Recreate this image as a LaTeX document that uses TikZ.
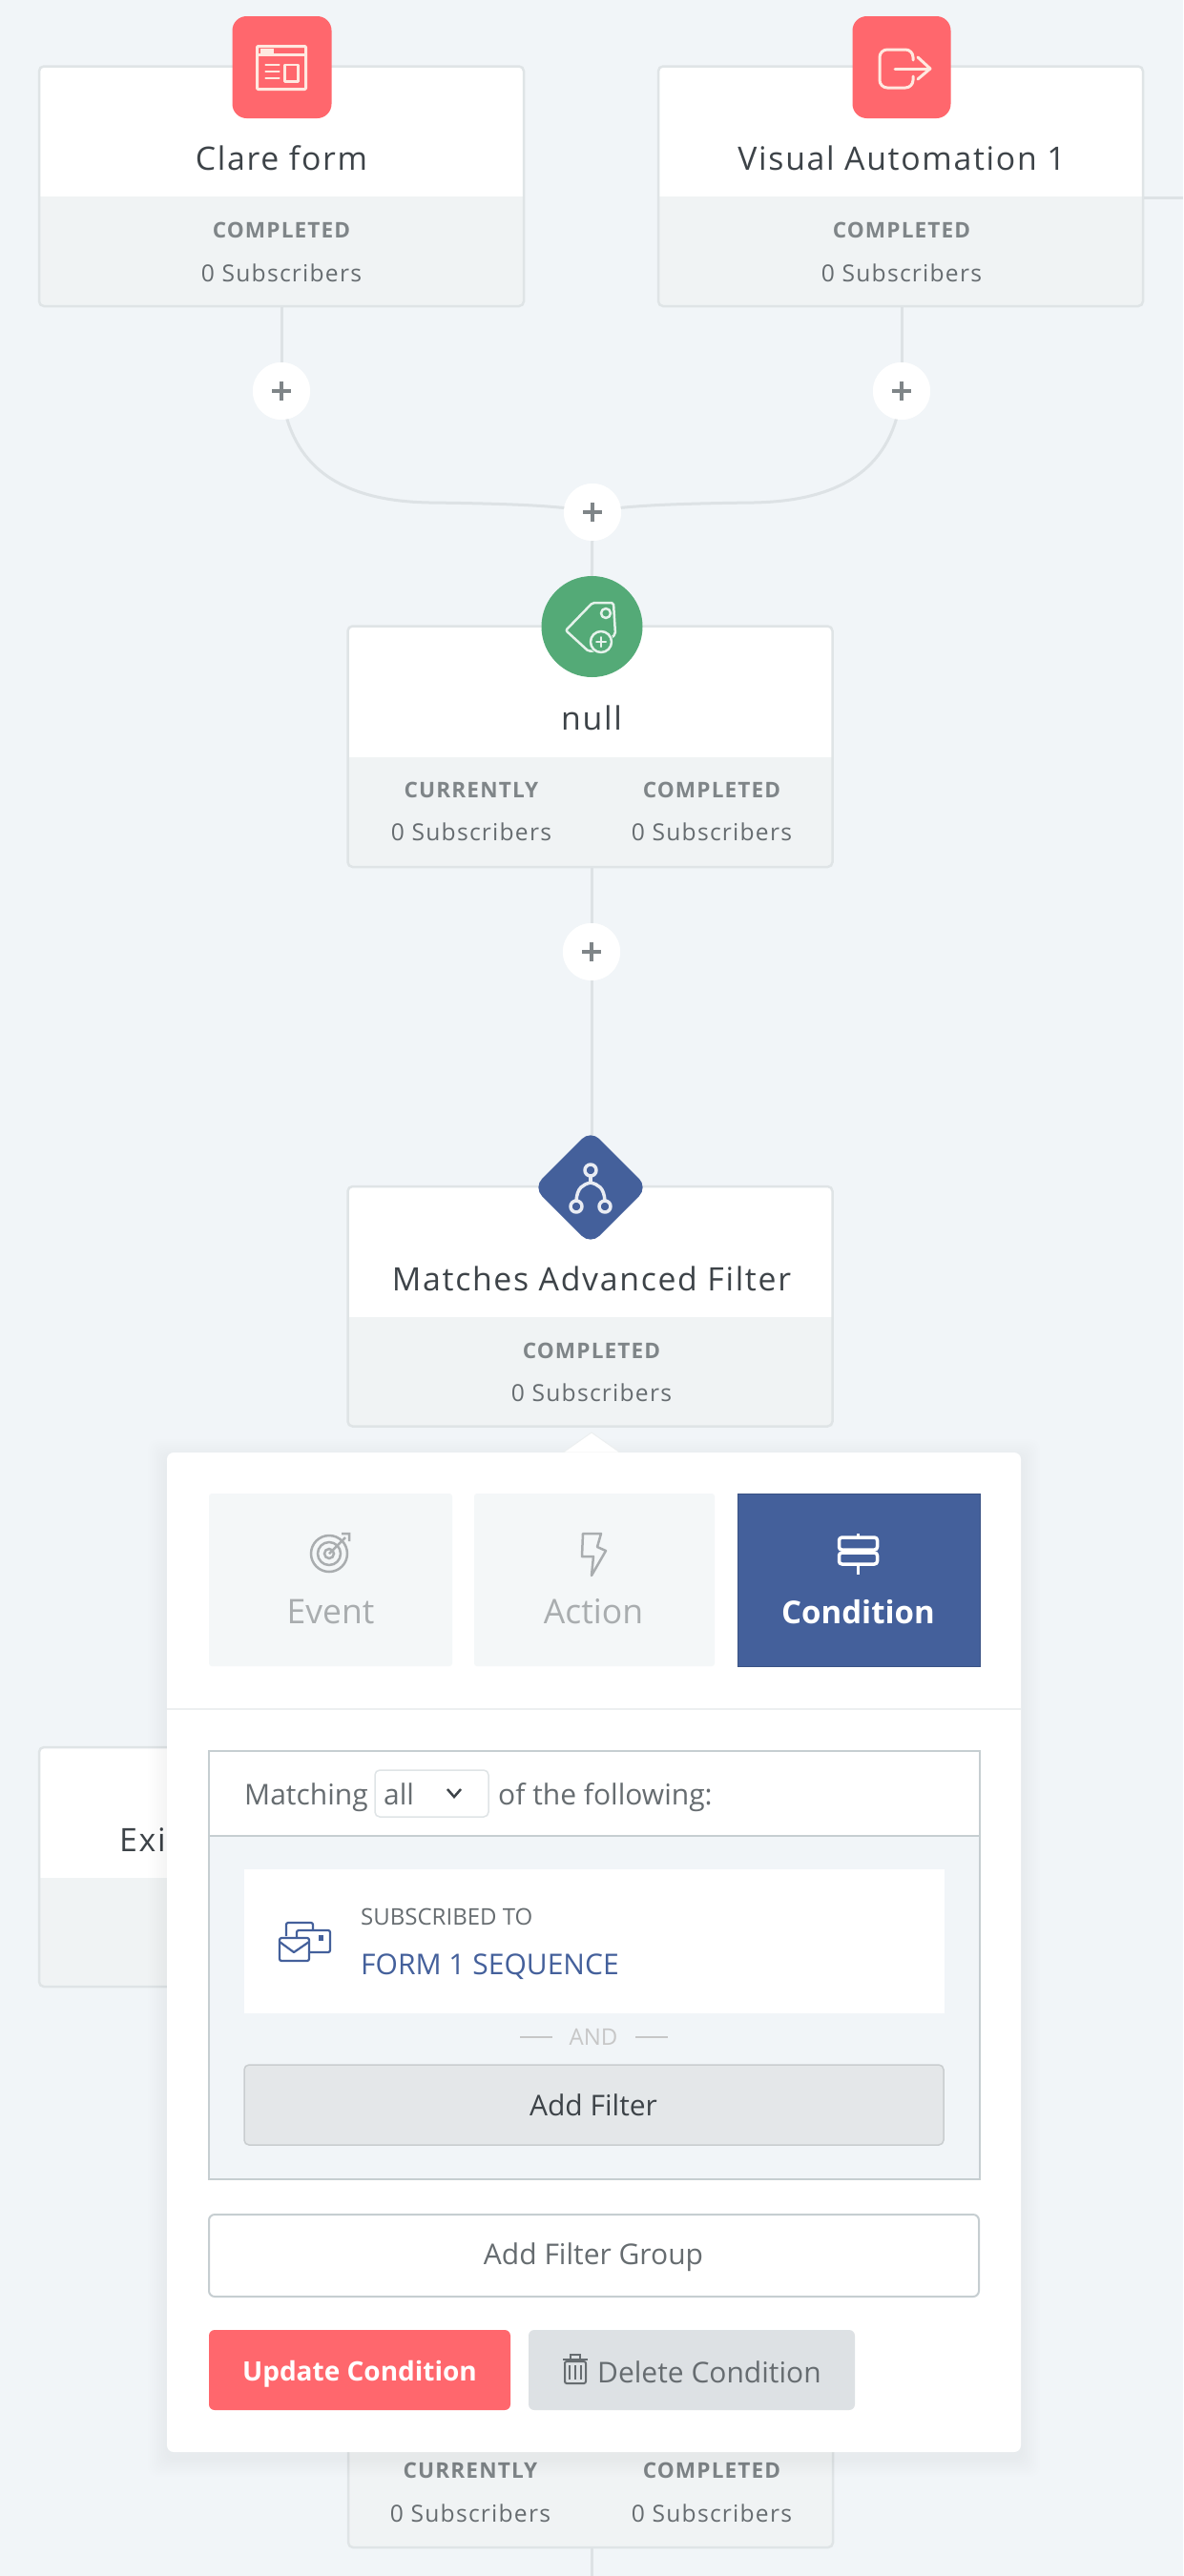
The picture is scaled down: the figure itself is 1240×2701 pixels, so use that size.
\documentclass[tikz,border=0pt]{standalone}
\usepackage{fontspec}
\setmainfont{Open Sans}
\newfontfamily\ls[LetterSpace=5]{Open Sans}
\newfontfamily\lsb[LetterSpace=5]{Open Sans}
\usetikzlibrary{shapes.geometric}
\definecolor{bgc}{HTML}{F1F5F8}
\definecolor{edgec}{HTML}{DFE4E6}
\definecolor{footc}{HTML}{F0F3F4}
\definecolor{linec}{HTML}{DDE2E5}
\definecolor{redc}{HTML}{FF676D}
\definecolor{greenc}{HTML}{54AA77}
\definecolor{bluec}{HTML}{44609B}
\definecolor{titlec}{HTML}{3D4348}
\definecolor{mutedc}{HTML}{7F8588}
\definecolor{subc}{HTML}{666C70}
\definecolor{tabc}{HTML}{F4F7F8}
\definecolor{tabt}{HTML}{A9ADAF}
\definecolor{boxl}{HTML}{C6CED1}
\definecolor{greyb}{HTML}{DDE1E4}
\definecolor{addb}{HTML}{E4E7E9}
\definecolor{iconp}{HTML}{FFE9E0}
\tikzset{
 conn/.style={draw=linec,line width=3pt},
 plusbtn/.style={circle,fill=white,minimum size=60pt,inner sep=0pt},
 title/.style={font=\ls\fontsize{33.8}{34}\selectfont,text=titlec,inner sep=0pt,anchor=center},
 head/.style={font=\lsb\fontsize{22.6}{23}\selectfont\bfseries,text=mutedc,inner sep=0pt},
 subs/.style={font=\ls\fontsize{24.6}{25}\selectfont,text=subc,inner sep=0pt},
 icon/.style={draw=iconp,line width=3pt,line join=round,line cap=round},
 tablabel/.style={font=\fontsize{35.5}{36}\selectfont,inner sep=0pt},
 body/.style={font=\fontsize{30}{30}\selectfont,inner sep=0pt},
 tabbox/.style={fill=tabc,rounded corners=3pt},
 panelline/.style={draw=boxl,line width=2pt},
}
\newcommand{\card}[4]{%
 \fill[white,rounded corners=5pt] (#1,#2) rectangle (#1+508,#4);
 \fill[footc,rounded corners=5pt] (#1,#3) rectangle (#1+508,#4);
 \fill[footc] (#1,#3) rectangle (#1+508,#3+12);
 \draw[edgec,line width=2.5pt,rounded corners=5pt] (#1,#2) rectangle (#1+508,#4);
}
\begin{document}
\begin{tikzpicture}[x=1pt,y=-1pt]
\useasboundingbox (0,0) rectangle (1240,2701);
\fill[bgc] (0,0) rectangle (1240,2701);
% connectors
\coordinate (rstub) at (1240,207);
\coordinate (cbot) at (620,2701);
\node[plusbtn] (p1) at (295,410) {};
\node[plusbtn] (p2) at (945,410) {};
\node[plusbtn] (p3) at (621,537) {};
\node[plusbtn] (p4) at (620,998) {};
\coordinate (c1b) at (295,321);
\coordinate (c2b) at (945,321);
\coordinate (c3t) at (620,656);
\coordinate (c3b) at (620,909);
\coordinate (c4t) at (620,1245);
\coordinate (c5b) at (620,2671);
\draw[conn] (c1b) -- (p1);
\draw[conn] (c2b) -- (p2);
\draw[conn] (p1.center) .. controls (303,480) and (345,525) .. (450,527) .. controls (530,528) and (590,530) .. (p3.center);
\draw[conn] (p2.center) .. controls (938,480) and (895,525) .. (790,527) .. controls (710,528) and (650,530) .. (p3.center);
\draw[conn] (p3) -- (c3t);
\draw[conn] (c3b) -- (p4);
\draw[conn] (p4) -- (c4t);
\draw[conn] (c5b) -- (cbot);
\draw[conn] (1197,207) -- (rstub);
% cards
\card{41}{69.5}{206}{321}
\card{690}{69.5}{206}{321}
\card{364.5}{656.5}{794}{909}
\card{364.5}{1244}{1381}{1495.5}
\card{41}{1832}{1969}{2083}
\card{365}{2440}{2540}{2671}
% plus buttons
\foreach \n in {p1,p2,p3,p4}{
 \fill[white] (\n) circle (30);
 \draw[mutedc,line width=4.5pt] ([xshift=-10pt]\n.center) -- ([xshift=10pt]\n.center);
 \draw[mutedc,line width=4.5pt] ([yshift=-10pt]\n.center) -- ([yshift=10pt]\n.center);
}
% card text
\node[title] (t1) at (295,166) {Clare form};
\node[head] (h1) at (295,241) {COMPLETED};
\node[subs] (s1) at (295,286) {0 Subscribers};
\node[title] (t2) at (945,166) {Visual Automation 1};
\node[head] (h2) at (945,241) {COMPLETED};
\node[subs] (s2) at (945,286) {0 Subscribers};
\node[title] (t3) at (620,753) {null};
\node[head] (h3a) at (494,828) {CURRENTLY};
\node[subs] (s3a) at (494,872) {0 Subscribers};
\node[head] (h3b) at (746,828) {COMPLETED};
\node[subs] (s3b) at (746,872) {0 Subscribers};
\node[title] (t4) at (620,1341) {Matches Advanced Filter};
\node[head] (h4) at (620,1416) {COMPLETED};
\node[subs] (s4) at (620,1460) {0 Subscribers};
\node[title,anchor=west] (t5) at (125,1929) {Exit};
\node[head] (h6a) at (493,2590.5) {CURRENTLY};
\node[subs] (s6a) at (493,2635.5) {0 Subscribers};
\node[head] (h6b) at (746,2590.5) {COMPLETED};
\node[subs] (s6b) at (746,2635.5) {0 Subscribers};
% top icons
\node[fill=redc,rounded corners=15pt,minimum width=104pt,minimum height=107pt,inner sep=0pt] (i1) at (295.5,70.5) {};
\node[fill=redc,rounded corners=15pt,minimum width=103pt,minimum height=107pt,inner sep=0pt] (i2) at (945,70.5) {};
\begin{scope}[shift={(295.5,70.5)}]
 \draw[icon,rounded corners=1pt] (-26,-22) rectangle (25,23);
 \draw[icon] (-26,-13.5) -- (25,-13.5);
 \fill[iconp] (-23,-20) rectangle (-9,-15);
 \draw[icon,line width=2.5pt] (-17,-2.5)--(-3,-2.5) (-17,4.5)--(-3,4.5) (-17,11.5)--(-3,11.5);
 \draw[icon,line width=2.5pt] (3,-2.5) rectangle (17,15);
\end{scope}
\begin{scope}[shift={(945,71)}]
 \draw[icon,rounded corners=8pt] (12,-8) -- (12,-19) -- (-23,-19) -- (-23,21) -- (12,21) -- (12,9);
 \draw[icon] (-7,1) -- (29,1);
 \draw[icon] (17,-11) -- (30,1) -- (17,12);
\end{scope}
% null icon
\node[circle,fill=greenc,minimum size=106pt,inner sep=0pt] (i3) at (620.5,657) {};
\begin{scope}[shift={(620,657)}]
 \draw[icon,draw=white!85!greenc,line width=2.5pt,rounded corners=2pt] (-27,4) -- (1,-25) -- (23,-25) -- (25,8) -- (6,25) -- (-3,26) -- cycle;
 \fill[greenc] (10,16) circle (13);
 \draw[icon,draw=white!85!greenc,line width=2.5pt] (10,16) circle (11);
 \draw[icon,draw=white!85!greenc,line width=2pt] (10,11)--(10,21) (5,16)--(15,16);
 \draw[icon,draw=white!85!greenc,line width=2.5pt] (15,-14) circle (5);
\end{scope}
% diamond icon
\fill[bluec,rounded corners=13pt] (619,1185) -- (679,1245) -- (619,1305) -- (559,1245) -- cycle;
\begin{scope}[shift={(619,1245)}]
 \draw[icon,draw=white!88!bluec,line width=3.5pt] (0,-18) circle (6) (-15,20) circle (6) (15,20) circle (6);
 \draw[icon,draw=white!88!bluec,line width=3.5pt] (0,-12) -- (0,-5);
 \draw[icon,draw=white!88!bluec,line width=3.5pt] (-15,14) .. controls (-14,0) and (-8,-3) .. (0,-5) .. controls (8,-3) and (14,0) .. (15,14);
\end{scope}
% panel shadow and panel
\foreach \s in {2,4,...,20}{
 \fill[black,opacity=0.0025,rounded corners=10pt] (175-\s,1523-\s+6) rectangle (1070+\s,2571+\s+6);
}
\fill[white,rounded corners=7pt] (175,1523) rectangle (1070,2571);
\fill[white,draw=edgec!60!white,line width=1pt] (590,1523) -- (620,1502) -- (650,1523) -- cycle;
\fill[white] (588,1523) rectangle (652,1530);
\draw[edgec!60!white,line width=2pt] (175,1792) -- (1070,1792);
% tabs
\node[tabbox,minimum width=255pt,minimum height=181pt,inner sep=0pt] (tab1) at (346.5,1656.5) {};
\node[tabbox,minimum width=252pt,minimum height=181pt,inner sep=0pt] (tab2) at (623,1656.5) {};
\node[fill=bluec,draw=bluec!85!black,line width=1pt,minimum width=254pt,minimum height=181pt,inner sep=0pt] (tab3) at (900,1656.5) {};
\node[tablabel,text=tabt] (l1) at (346.5,1690) {Event};
\node[tablabel,text=tabt] (l2) at (622,1690) {Action};
\node[tablabel,text=white,font=\fontsize{33}{33}\selectfont\bfseries] (l3) at (899.5,1690) {Condition};
\begin{scope}[shift={(346,1629)},tabt,line width=2.5pt]
 \draw (-1,0) circle (19);
 \draw (-1,0) circle (12);
 \draw (-1,0) circle (5);
 \draw (-1,0) -- (16,-17) (12,-21) -- (20,-21) -- (20,-13);
\end{scope}
\begin{scope}[shift={(622,1630)},tabt,line width=2.5pt,line join=round]
 \draw (-11,-22) -- (8,-22) -- (4,-8) -- (13,-4) -- (-2,22) -- (0,2) -- (-12,2) -- cycle;
\end{scope}
\begin{scope}[shift={(899.5,1630)},white,line width=3.5pt,line join=round]
 \draw[rounded corners=3pt] (-20,-18) rectangle (20,-5);
 \draw[rounded corners=3pt] (-20,-2) rectangle (20,10);
 \draw (0,-22) -- (0,-18) (0,10) -- (0,21);
\end{scope}
% filter box
\fill[bgc] (219,1925) rectangle (1027,2285);
\draw[panelline] (219,1836) rectangle (1027,2285);
\draw[panelline] (219,1925) -- (1027,1925);
\node[body,text=subc,anchor=base west] (m1) at (256,1892) {Matching};
\node[draw=edgec,line width=1.5pt,rounded corners=5pt,minimum width=119pt,minimum height=49pt,inner sep=0pt,fill=white] (sel) at (452.5,1880.5) {};
\node[body,text=subc,anchor=base west] (m2) at (402,1892) {all};
\draw[titlec,line width=2.5pt] (469,1876) -- (476,1884) -- (483,1876);
\node[body,text=subc,anchor=base west] (m3) at (522,1892) {of the following:};
\fill[white] (256,1960) rectangle (990,2111);
\node[inner sep=0pt,anchor=west,font=\fontsize{24}{24}\selectfont,text=subc] (st) at (378,2010) {SUBSCRIBED TO};
\node[inner sep=0pt,anchor=west,font=\fontsize{30}{30}\selectfont,text=bluec] (sq) at (378,2062) {FORM 1 SEQUENCE};
\begin{scope}[bluec,line width=2.2pt,line join=round]
 \draw[rounded corners=2pt] (300,2030) -- (300,2016) -- (328,2016) -- (328,2024);
 \fill[white] (311,2024) rectangle (346,2048);
 \draw[rounded corners=2pt] (311,2024) rectangle (346,2047);
 \fill[bluec] (334,2029) rectangle (339,2035);
 \fill[white] (292,2031) rectangle (324,2057);
 \draw[rounded corners=2pt] (293,2032) rectangle (324,2056);
 \draw (293,2036) -- (308,2047) -- (324,2036);
\end{scope}
\node[inner sep=0pt,font=\fontsize{24}{24}\selectfont,text=black!22] (andt) at (622,2136) {AND};
\coordinate (a1) at (545,2136);\coordinate (a2) at (579,2136);
\coordinate (a3) at (666,2136);\coordinate (a4) at (700,2136);
\draw[black!22,line width=2pt] (a1) -- (a2) (a3) -- (a4);
\node[fill=addb,draw=edgec!90!black,line width=1.5pt,rounded corners=5pt,minimum width=733pt,minimum height=84pt,inner sep=0pt] (addf) at (622.5,2207) {};
\node[body,text=titlec] (addft) at (622,2207) {Add Filter};
\node[fill=white,draw=boxl,line width=2pt,rounded corners=6pt,minimum width=807pt,minimum height=86pt,inner sep=0pt] (addg) at (622.5,2365) {};
\node[body,text=subc] (addgt) at (622,2367) {Add Filter Group};
\node[fill=redc,rounded corners=6pt,minimum width=316pt,minimum height=84pt,inner sep=0pt] (upd) at (377,2485) {};
\node[body,text=white,font=\fontsize{28}{28}\selectfont\bfseries] (updt) at (377,2489) {Update Condition};
\node[fill=greyb,rounded corners=6pt,minimum width=342pt,minimum height=84pt,inner sep=0pt] (del) at (725,2485) {};
\node[body,text=subc,anchor=west] (delt) at (626,2487) {Delete Condition};
\begin{scope}[subc,line width=2pt]
 \draw[rounded corners=2pt] (592,2476) rectangle (614,2499);
 \draw (590,2474) -- (616,2474);
 \draw (598,2473) -- (598,2469) -- (608,2469) -- (608,2473);
 \draw (597,2480)--(597,2495) (603,2480)--(603,2495) (609,2480)--(609,2495);
\end{scope}
\end{tikzpicture}
\end{document}
